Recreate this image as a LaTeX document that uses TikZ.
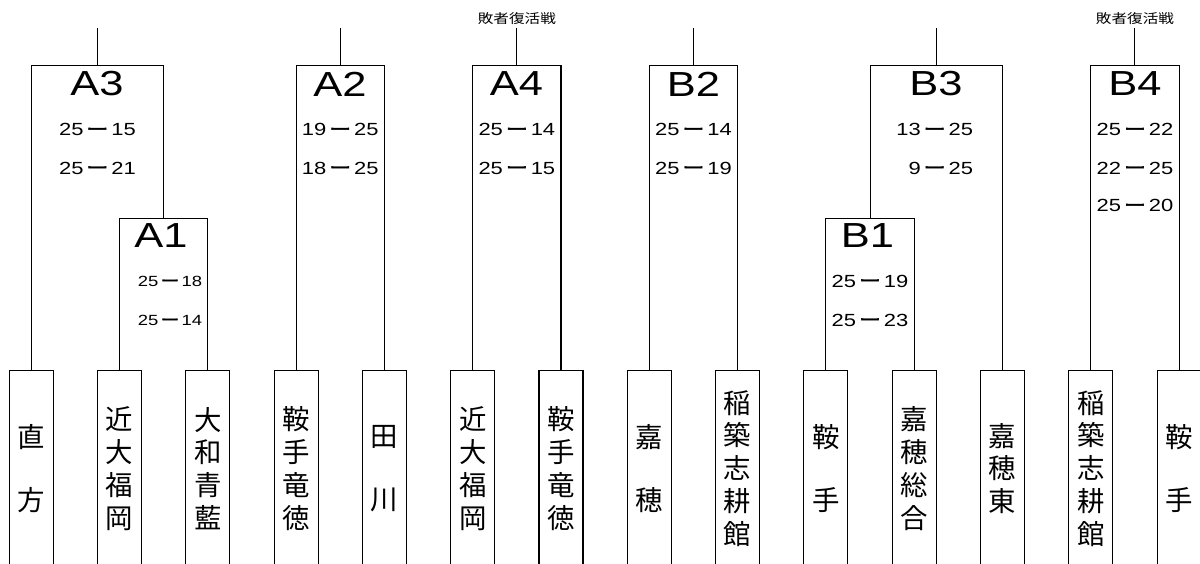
\documentclass[tikz,border=0pt]{standalone}
\usepackage{fontspec}
\setmainfont{Liberation Sans}
\newfontfamily\widefont[FakeStretch=1.25]{Liberation Sans}
\newfontfamily\jpfont{Noto Sans CJK JP}
\newfontfamily\jpwide[FakeStretch=1.2]{Noto Sans CJK JP}
\newfontfamily\dashfont[FakeStretch=1.25,FakeBold=2.5]{Noto Sans CJK JP}
\usepackage{tikz}
\usetikzlibrary{positioning,calc}

\newcommand{\res}[2]{#1\,{\dashfont ー}\,#2}

\begin{document}
\begin{tikzpicture}[x=0.02cm, y=-0.02cm, line width=0.6pt,
    team/.style={draw, fill=white, anchor=north, minimum width=0.88cm, minimum height=3.92cm,
        inner sep=0pt, align=center, font=\jpfont\fontsize{15.6}{18.7}\selectfont},
    match/.style={inner sep=0pt, font=\widefont\fontsize{19.8}{20}\selectfont},
    score/.style={inner sep=0pt, font=\widefont\fontsize{10}{11}\selectfont},
    small score/.style={inner sep=0pt, font=\widefont\fontsize{8.4}{9}\selectfont},
    note/.style={inner sep=0pt, font=\jpwide\fontsize{7.4}{8}\selectfont}]
    \useasboundingbox (0,0) rectangle (1200,564);
    \clip (0,0) rectangle (1200,564);

    % Teams
    \node[team] (t1) at (31.2,370) {直\\[17pt]方};
    \node[team] (t2) at (119.5,370) {近\\大\\福\\岡};
    \node[team] (t3) at (207.8,370) {大\\和\\青\\藍};
    \node[team] (t4) at (296.1,370) {鞍\\手\\竜\\徳};
    \node[team] (t5) at (384.4,370) {田\\[17pt]川};
    \node[team] (t6) at (472.7,370) {近\\大\\福\\岡};
    \node[team] (t7) at (561.0,370) {鞍\\手\\竜\\徳};
    \node[team] (t8) at (649.3,370) {嘉\\[17pt]穂};
    \node[team] (t9) at (737.6,370) {稲\\築\\志\\耕\\館};
    \node[team] (t10) at (825.9,370) {鞍\\[17pt]手};
    \node[team] (t11) at (914.2,370) {嘉\\穂\\総\\合};
    \node[team] (t12) at (1002.5,370) {嘉\\穂\\東};
    \node[team] (t13) at (1090.8,370) {稲\\築\\志\\耕\\館};
    \node[team] (t14) at (1179.1,370) {鞍\\[17pt]手};

    % Match points
    \coordinate (A3) at (97.4,65.3);
    \coordinate (A1) at (163.65,218.3);
    \coordinate (A2) at (340.25,65.3);
    \coordinate (A4) at (516.85,65.3);
    \coordinate (B2) at (693.45,65.3);
    \coordinate (B3) at (936.3,65.3);
    \coordinate (B1) at (870.05,218.3);
    \coordinate (B4) at (1134.95,65.3);
    \coordinate (A3up) at (97.4,28.3);
    \coordinate (A2up) at (340.25,28.3);
    \coordinate (A4up) at (516.85,28.3);
    \coordinate (B2up) at (693.45,28.3);
    \coordinate (B3up) at (936.3,28.3);
    \coordinate (B4up) at (1134.95,28.3);

    % Brackets
    \draw (t1.north) |- (A3) -| (A1);
    \draw (t2.north) |- (A1) -| (t3.north);
    \draw (t4.north) |- (A2) -| (t5.north);
    \draw (t6.north) |- (A4) -| (t7.north);
    \draw (t8.north) |- (B2) -| (t9.north);
    \draw (t10.north) |- (B1) -| (t11.north);
    \draw (B1) |- (B3) -| (t12.north);
    \draw (t13.north) |- (B4) -| (t14.north);
    \draw (A3) -- (A3up);
    \draw (A2) -- (A2up);
    \draw (A4) -- (A4up);
    \draw (B2) -- (B2up);
    \draw (B3) -- (B3up);
    \draw (B4) -- (B4up);

    % Repechage notes
    \node[note] (n1) at (516.85,19) {敗者復活戦};
    \node[note] (n2) at (1134.95,19) {敗者復活戦};

    % Match names
    \node[match] (mA3) at (97,84) {A3};
    \node[match] (mA1) at (161,236) {A1};
    \node[match] (mA2) at (340,84) {A2};
    \node[match] (mA4) at (516.5,84) {A4};
    \node[match] (mB2) at (693.5,84) {B2};
    \node[match] (mB3) at (936,84) {B3};
    \node[match] (mB1) at (867.5,236) {B1};
    \node[match] (mB4) at (1135,84) {B4};

    % Scores
    \node[score] (sA3a) at (97.4,129.5) {\res{25}{15}};
    \node[score] (sA3b) at (97.4,168) {\res{25}{21}};
    \node[small score] (sA1a) at (170,281) {\res{25}{18}};
    \node[small score] (sA1b) at (170,320) {\res{25}{14}};
    \node[score] (sA2a) at (340.25,129.5) {\res{19}{25}};
    \node[score] (sA2b) at (340.25,168) {\res{18}{25}};
    \node[score] (sA4a) at (516.85,129.5) {\res{25}{14}};
    \node[score] (sA4b) at (516.85,168) {\res{25}{15}};
    \node[score] (sB2a) at (693.45,129.5) {\res{25}{14}};
    \node[score] (sB2b) at (693.45,168) {\res{25}{19}};
    \node[score, anchor=east] (sB3a) at (973.5,129.5) {\res{13}{25}};
    \node[score, anchor=east] (sB3b) at (973.5,168) {\res{9}{25}};
    \node[score] (sB1a) at (870,281) {\res{25}{19}};
    \node[score] (sB1b) at (870,320) {\res{25}{23}};
    \node[score] (sB4a) at (1134.95,129.5) {\res{25}{22}};
    \node[score] (sB4b) at (1134.95,168) {\res{22}{25}};
    \node[score] (sB4c) at (1134.95,205.5) {\res{25}{20}};
\end{tikzpicture}
\end{document}
